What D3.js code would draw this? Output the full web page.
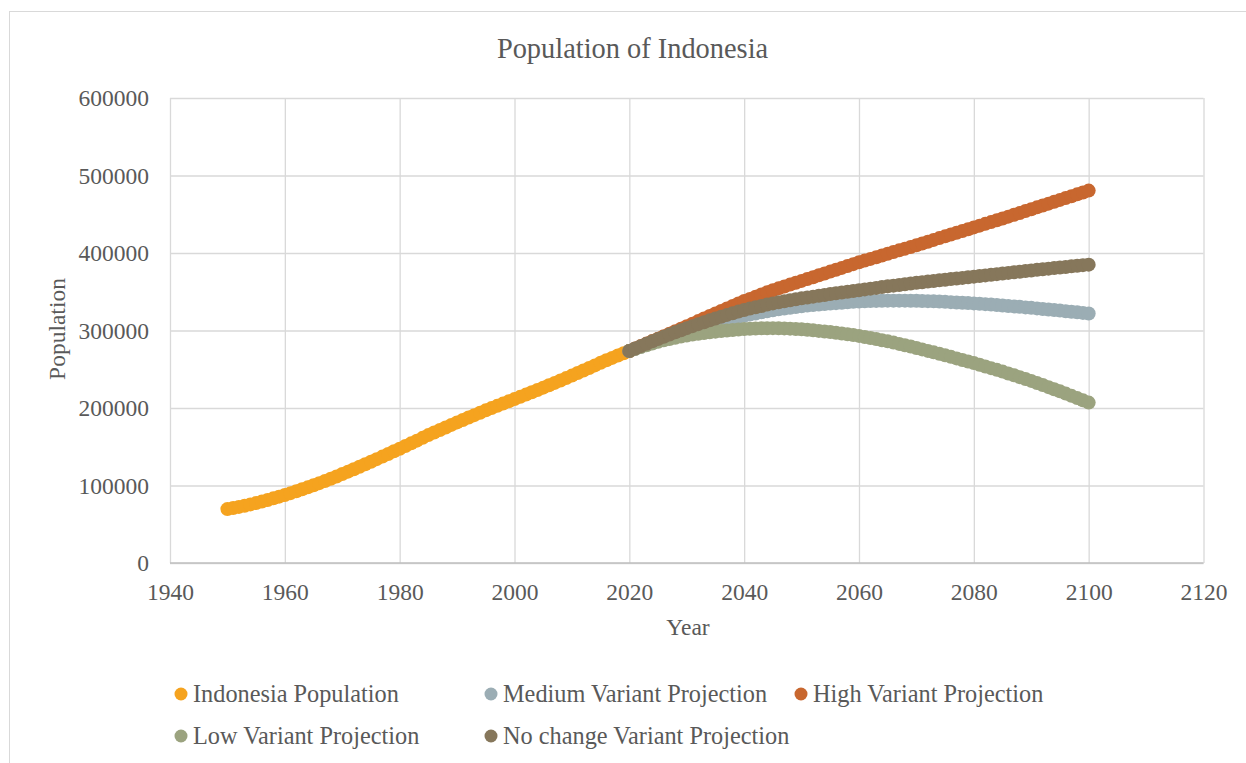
<!DOCTYPE html>
<html>
<head>
<meta charset="utf-8">
<script src="https://cdn.jsdelivr.net/npm/d3@7"></script>
<style>
  html, body { margin: 0; padding: 0; background: #ffffff; }
  svg { display: block; }
  text { font-family: "Liberation Serif", "Times New Roman", serif; fill: #595959; }
</style>
</head>
<body>
<svg id="chart" width="1246" height="763"></svg>
<script>
// Population of Indonesia (thousands), estimates 1950-2020
const histYears = d3.range(1950, 2021);
const histValues = [
  69543, 70900, 72400, 73950, 75600, 77270, 79250, 81350, 83450, 85600,
  87790, 90150, 92580, 95080, 97640, 100270, 103000, 105800, 108700, 111700,
  114840, 117900, 121000, 124200, 127400, 130680, 134000, 137300, 140700, 144100,
  147490, 150900, 154400, 157900, 161500, 165010, 168400, 171700, 174900, 178200,
  181410, 184600, 187700, 190800, 193900, 196960, 199900, 202800, 205700, 208600,
  211510, 214400, 217300, 220300, 223300, 226290, 229300, 232400, 235500, 238600,
  241830, 245100, 248400, 251700, 255000, 258380, 261550, 264650, 267670, 270630,
  273520
];

// Projection variants 2020-2100 (thousands)
const projYears = d3.range(2020, 2101);
const mediumValues = [
  273500, 276300, 279100, 281800, 284500, 287100, 289600, 292100, 294500, 296900,
  299200, 301400, 303600, 305700, 307800, 309900, 311800, 313700, 315500, 317300,
  319000, 320500, 322000, 323500, 324900, 326200, 327300, 328400, 329400, 330400,
  331300, 332100, 332800, 333500, 334100, 334700, 335300, 335900, 336400, 337000,
  337500, 337800, 338000, 338200, 338400, 338500, 338500, 338500, 338500, 338400,
  338300, 338100, 337900, 337600, 337300, 337000, 336600, 336200, 335800, 335400,
  335000, 334500, 334000, 333400, 332900, 332300, 331700, 331100, 330500, 329800,
  329200, 328500, 327800, 327100, 326400, 325700, 324900, 324200, 323500, 322700,
  322000
];
const highValues = [
  273500, 276700, 279900, 283100, 286300, 289500, 292700, 295900, 299100, 302300,
  305500, 308800, 312100, 315400, 318700, 322000, 325200, 328400, 331600, 334800,
  338000, 340800, 343600, 346400, 349200, 352000, 354400, 356800, 359200, 361600,
  364000, 366400, 368800, 371200, 373600, 376000, 378400, 380800, 383200, 385600,
  388000, 390200, 392400, 394600, 396800, 399000, 401200, 403400, 405600, 407800,
  410000, 412300, 414600, 416900, 419200, 421500, 423800, 426100, 428400, 430700,
  433000, 435300, 437600, 439900, 442200, 444500, 446900, 449300, 451700, 454100,
  456500, 458900, 461300, 463700, 466100, 468500, 470900, 473300, 475700, 478100,
  480500
];
const lowValues = [
  273500, 276100, 278600, 281000, 283300, 285500, 287400, 289100, 290700, 292100,
  293500, 294700, 295800, 296800, 297700, 298500, 299300, 300000, 300600, 301200,
  301800, 302200, 302500, 302800, 302900, 303000, 302900, 302700, 302400, 302000,
  301500, 300900, 300200, 299500, 298800, 298000, 297100, 296100, 295100, 294100,
  293000, 291700, 290400, 289000, 287500, 286000, 284400, 282700, 281000, 279300,
  277500, 275600, 273700, 271800, 269900, 268000, 266000, 264000, 262000, 260000,
  258000, 255800, 253600, 251400, 249200, 247000, 244600, 242200, 239800, 237400,
  235000, 232300, 229600, 226900, 224200, 221500, 218600, 215700, 212800, 209900,
  207000
];
const noChangeValues = [
  273500, 276700, 279800, 282900, 286000, 289000, 291900, 294800, 297600, 300300,
  303000, 305600, 308200, 310700, 313100, 315500, 317800, 320100, 322300, 324400,
  326500, 328300, 330000, 331700, 333400, 335000, 336400, 337800, 339100, 340300,
  341500, 342600, 343700, 344800, 345900, 347000, 348000, 349000, 350000, 351000,
  352000, 353000, 354000, 355000, 356000, 357000, 357900, 358800, 359700, 360600,
  361500, 362300, 363100, 363900, 364700, 365500, 366300, 367100, 367900, 368700,
  369500, 370300, 371100, 371900, 372700, 373500, 374300, 375100, 375900, 376700,
  377500, 378300, 379000, 379800, 380500, 381300, 382000, 382800, 383500, 384300,
  385000
];

const seriesNames = [
  "Indonesia Population",
  "Medium Variant Projection",
  "High Variant Projection",
  "Low Variant Projection",
  "No change Variant Projection"
];
const seriesColors = ["#F5A31F", "#9BADB4", "#C8672F", "#9BA37F", "#86775B"];

const xTicks = [1940, 1960, 1980, 2000, 2020, 2040, 2060, 2080, 2100, 2120];
const yTicks = [0, 100000, 200000, 300000, 400000, 500000, 600000];

const series = [
  { years: histYears, values: histValues },
  { years: projYears, values: mediumValues },
  { years: projYears, values: highValues },
  { years: projYears, values: lowValues },
  { years: projYears, values: noChangeValues }
].map((s, i) => ({
  name: seriesNames[i],
  color: seriesColors[i],
  points: s.years.map((yr, j) => ({ year: yr, value: s.values[j] }))
}));

const svg = d3.select("#chart");

// Outer chart frame
svg.append("rect")
  .attr("x", 9.5).attr("y", 11.5)
  .attr("width", 1260).attr("height", 780)
  .attr("fill", "#ffffff")
  .attr("stroke", "#d9d9d9").attr("stroke-width", 1);

const plot = { left: 170, right: 1203.5, top: 98, bottom: 563 };

const x = d3.scaleLinear().domain([1940, 2120]).range([plot.left, plot.right]);
const y = d3.scaleLinear().domain([0, 600000]).range([plot.bottom, plot.top]);

const plotH = plot.bottom - plot.top;
const plotW = plot.right - plot.left;

// Gridlines and tick labels via axes
const xAxis = svg.append("g")
  .attr("transform", `translate(0,${plot.bottom})`)
  .call(d3.axisBottom(x).tickValues(xTicks).tickFormat(d3.format("d"))
    .tickSize(-plotH).tickPadding(20));
const yAxis = svg.append("g")
  .attr("transform", `translate(${plot.left},0)`)
  .call(d3.axisLeft(y).tickValues(yTicks).tickFormat(d3.format("d"))
    .tickSize(-plotW).tickPadding(21));

[xAxis, yAxis].forEach(g => {
  g.select(".domain").remove();
  g.selectAll(".tick line").attr("stroke", "#d9d9d9").attr("stroke-width", 1.3);
  g.selectAll(".tick text")
    .attr("fill", "#595959")
    .style("font-family", '"Liberation Serif", "Times New Roman", serif')
    .style("font-size", "23.5px");
});

// Horizontal category axis line
svg.append("line")
  .attr("x1", plot.left).attr("x2", plot.right)
  .attr("y1", plot.bottom).attr("y2", plot.bottom)
  .attr("stroke", "#bfbfbf").attr("stroke-width", 1.5);

// Markers for each series
const marks = svg.append("g");
series.forEach(s => {
  marks.append("g")
    .selectAll("circle")
    .data(s.points)
    .join("circle")
    .attr("cx", d => x(d.year))
    .attr("cy", d => y(d.value))
    .attr("r", 7)
    .attr("fill", s.color);
});

// Title and axis titles
svg.append("text")
  .attr("x", 632.5).attr("y", 58)
  .attr("text-anchor", "middle")
  .style("font-size", "28.4px")
  .text("Population of Indonesia");

svg.append("text")
  .attr("x", 688).attr("y", 635)
  .attr("text-anchor", "middle")
  .style("font-size", "23.5px")
  .text("Year");

svg.append("text")
  .attr("transform", "translate(65,329) rotate(-90)")
  .attr("text-anchor", "middle")
  .style("font-size", "23.5px")
  .text("Population");

// Legend (two rows, three columns)
const legendPos = [
  { mx: 181, ty: 702 }, { mx: 491, ty: 702 }, { mx: 801, ty: 702 },
  { mx: 181, ty: 744 }, { mx: 491, ty: 744 }
];
const legend = svg.append("g");
series.forEach((s, i) => {
  const p = legendPos[i];
  const item = legend.append("g");
  item.append("circle")
    .attr("cx", p.mx).attr("cy", p.ty - 8)
    .attr("r", 6.5)
    .attr("fill", s.color);
  item.append("text")
    .attr("x", p.mx + 12).attr("y", p.ty)
    .style("font-size", "24.3px")
    .text(s.name);
});
</script>
</body>
</html>
